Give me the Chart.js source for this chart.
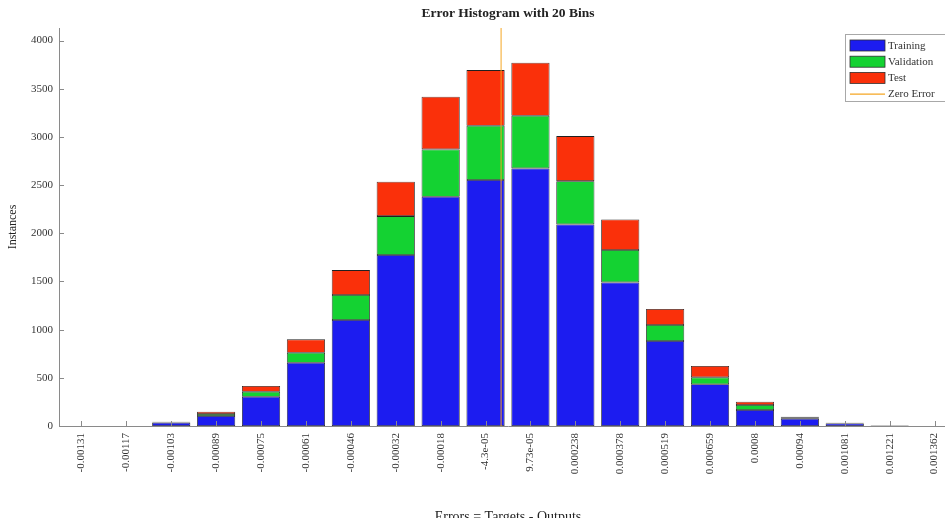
<!DOCTYPE html>
<html>
<head>
<meta charset="utf-8">
<script src="https://cdn.jsdelivr.net/npm/chart.js@4.4.1/dist/chart.umd.min.js"></script>
<style>
  html, body { margin: 0; padding: 0; background: #fff; overflow: hidden; }
  #wrap { position: relative; width: 960px; height: 530px; }
</style>
</head>
<body>
<div id="wrap"><canvas id="c" width="960" height="530"></canvas></div>
<script>
// ---- data ----
const tickLabels = ["-0.00131","-0.00117","-0.00103","-0.00089","-0.00075","-0.00061","-0.00046","-0.00032","-0.00018","-4.3e-05","9.73e-05","0.000238","0.000378","0.000519","0.000659","0.0008","0.00094","0.001081","0.001221","0.001362"];
const binCenters = [-0.0013079,-0.0011674,-0.0010268,-0.0008863,-0.0007458,-0.0006053,-0.0004648,-0.0003242,-0.0001837,-0.0000432,0.0000973,0.0002378,0.0003783,0.0005189,0.0006594,0.0007999,0.0009405,0.001081,0.0012215,0.001362];
const training   = [1, 1, 35, 104, 304, 657, 1100, 1774, 2379, 2552, 2673, 2092, 1490, 882, 433, 166, 75, 26, 4, 1];
const validation = [0, 0, 5, 20, 52, 103, 259, 404, 491, 563, 546, 449, 336, 166, 72, 52, 11, 4, 1, 0];
const test       = [0, 0, 5, 24, 59, 139, 259, 356, 546, 578, 550, 467, 318, 166, 117, 34, 10, 4, 0, 0];
const yTickValues = [0, 500, 1000, 1500, 2000, 2500, 3000, 3500, 4000];
const yTop = 4130;
const zeroError = 0;

// position of zero error in bin-index units, from the bin centres
const k = binCenters.findIndex(v => v > zeroError) - 1;
const zeroIdx = k + (zeroError - binCenters[k]) / (binCenters[k + 1] - binCenters[k]);

const SERIF = '"Liberation Serif", "Times New Roman", serif';
const C_BLUE = '#1c1cf0', C_GREEN = '#14d232', C_RED = '#fa300a', C_ORANGE = '#f5a623';
const AXIS = '#8a8a8a';

const inwardTicks = {
  id: 'inwardTicks',
  afterDatasetsDraw(chart) {
    const {ctx, chartArea, scales} = chart;
    ctx.save();
    ctx.strokeStyle = AXIS;
    ctx.lineWidth = 1;
    scales.y.ticks.forEach(t => {
      const py = Math.round(scales.y.getPixelForValue(t.value)) + 0.5;
      ctx.beginPath(); ctx.moveTo(chartArea.left, py); ctx.lineTo(chartArea.left + 5, py); ctx.stroke();
    });
    tickLabels.forEach((_, i) => {
      const px = Math.round(scales.x.getPixelForValue(i)) + 0.5;
      ctx.beginPath(); ctx.moveTo(px, chartArea.bottom); ctx.lineTo(px, chartArea.bottom - 5); ctx.stroke();
    });
    ctx.restore();
  }
};

const boxLegend = {
  id: 'boxLegend',
  afterDraw(chart) {
    const {ctx, chartArea} = chart;
    const x0 = chartArea.right - 112, y0 = chartArea.top + 6;
    const w = 108, h = 67, rowH = 16.2;
    ctx.save();
    ctx.fillStyle = '#fff';
    ctx.fillRect(x0, y0, w, h);
    ctx.strokeStyle = '#a8a8a8';
    ctx.lineWidth = 1;
    ctx.strokeRect(x0 + 0.5, y0 + 0.5, w, h);
    ctx.font = '11px ' + SERIF;
    ctx.textBaseline = 'middle';
    ctx.textAlign = 'left';
    chart.data.datasets.forEach((ds, i) => {
      const cy = y0 + 11.5 + i * rowH;
      if (ds.type === 'line') {
        ctx.strokeStyle = ds.borderColor; ctx.lineWidth = 1.2;
        ctx.beginPath(); ctx.moveTo(x0 + 5, cy); ctx.lineTo(x0 + 40, cy); ctx.stroke();
      } else {
        ctx.fillStyle = ds.backgroundColor;
        ctx.fillRect(x0 + 5, cy - 5.5, 35, 11);
        ctx.strokeStyle = '#303030'; ctx.lineWidth = 0.8;
        ctx.strokeRect(x0 + 5, cy - 5.5, 35, 11);
      }
      ctx.fillStyle = '#333';
      ctx.fillText(ds.label, x0 + 43, cy + 0.5);
    });
    ctx.restore();
  }
};

const barCommon = { borderColor: '#202020', borderWidth: 0.8, borderSkipped: false, barPercentage: 0.85, categoryPercentage: 1.0, grouped: false, stack: 'all', order: 1 };

new Chart(document.getElementById('c'), {
  type: 'bar',
  data: {
    labels: tickLabels,
    datasets: [
      Object.assign({ type: 'bar', label: 'Training', data: training, backgroundColor: C_BLUE }, barCommon),
      Object.assign({ type: 'bar', label: 'Validation', data: validation, backgroundColor: C_GREEN }, barCommon),
      Object.assign({ type: 'bar', label: 'Test', data: test, backgroundColor: C_RED }, barCommon),
      { type: 'line', label: 'Zero Error', xAxisID: 'xz', data: [{x: zeroIdx, y: 0}, {x: zeroIdx, y: yTop}],
        borderColor: C_ORANGE, borderWidth: 1, pointRadius: 0, fill: false, order: 0 }
    ]
  },
  options: {
    responsive: false,
    devicePixelRatio: 1,
    animation: false,
    layout: { padding: { left: 0, right: 3, top: 0, bottom: 0 } },
    plugins: {
      legend: { display: false },
      tooltip: { enabled: false },
      title: {
        display: true, fullSize: false,
        text: 'Error Histogram with 20 Bins',
        color: '#222',
        font: { family: SERIF, size: 13.5, weight: 'bold' },
        padding: { top: 5.5, bottom: 6.3 }
      }
    },
    scales: {
      x: {
        type: 'category', stacked: true, offset: true,
        grid: { display: false, drawTicks: false },
        border: { display: true, color: AXIS, width: 1 },
        ticks: { autoSkip: false, minRotation: 90, maxRotation: 90, padding: 7, color: '#333', font: { family: SERIF, size: 11 } },
        title: { display: true, text: 'Errors = Targets - Outputs', color: '#222', font: { family: SERIF, size: 14 }, padding: { top: 0, bottom: 4 } },
        afterFit(s) { s.height = 104; }
      },
      xz: { type: 'linear', display: false, min: -0.5, max: tickLabels.length - 0.5 },
      y: {
        stacked: true, min: 0, max: yTop,
        grid: { display: false, drawTicks: false },
        border: { display: true, color: AXIS, width: 1 },
        afterBuildTicks(s) { s.ticks = yTickValues.map(v => ({ value: v })); },
        ticks: { padding: 6, color: '#333', font: { family: SERIF, size: 11 }, callback: v => String(v) },
        title: { display: true, text: 'Instances', color: '#222', font: { family: SERIF, size: 12 }, padding: { top: 6, bottom: 0 } },
        afterFit(s) { s.width = 59; }
      }
    }
  },
  plugins: [inwardTicks, boxLegend]
});
</script>
</body>
</html>
